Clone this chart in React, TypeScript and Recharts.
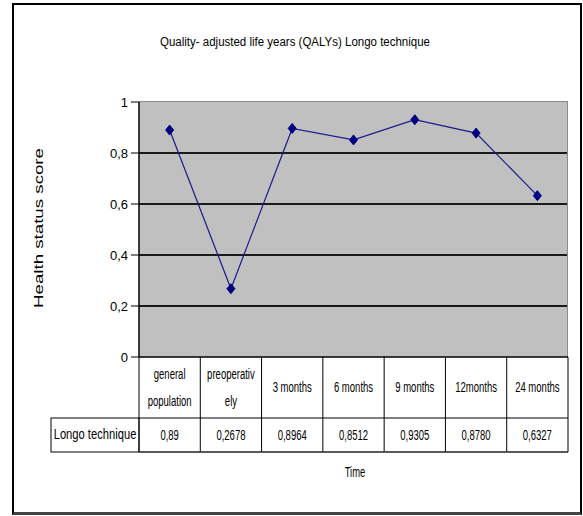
import { LineChart, Line, XAxis, YAxis, CartesianGrid } from 'recharts';

const categories = ['general\npopulation', 'preoperativ\nely', '3 months', '6 months', '9 months', '12months', '24 months'];
const longoValues = [0.89, 0.2678, 0.8964, 0.8512, 0.9305, 0.878, 0.6327];
const valueDigits = [2, 4, 4, 4, 4, 4, 4];
const yTicks = [0, 0.2, 0.4, 0.6, 0.8, 1];
const gridValues = [0.2, 0.4, 0.6, 0.8];
const seriesName = 'Longo technique';

const data = categories.map((label, i) => ({
  label,
  value: longoValues[i],
  text: longoValues[i].toFixed(valueDigits[i]).replace('.', ','),
}));

const FONT = "'Liberation Sans', Arial, sans-serif";
const W = 583;
const H = 516;
const PLOT_LEFT = 139;
const PLOT_RIGHT = 568;
const PLOT_TOP = 102;
const PLOT_BOTTOM = 357;
const PLOT_W = PLOT_RIGHT - PLOT_LEFT;
const COL_W = PLOT_W / categories.length;
const Y_AXIS_W = 60;
const ROW1 = 61;
const ROW2 = 34;
const X_AXIS_H = ROW1 + ROW2;
const NAME_W = 88;
const SX = 0.68;

function SqText({ x, y, children, sx = SX, size = 14 }: any) {
  return (
    <text
      transform={`translate(${x} ${y}) scale(${sx} 1)`}
      textAnchor="middle"
      dominantBaseline="central"
      fontFamily={FONT}
      fontSize={size}
      fill="#000"
    >
      {children}
    </text>
  );
}

function TableTick(props: any) {
  const { x, y, payload } = props;
  const index = props.index ?? payload.index ?? 0;
  const left = x - COL_W / 2;
  const right = x + COL_W / 2;
  const lines = String(payload.value).split('\n');
  const row = data[index];
  return (
    <g>
      {index === 0 && (
        <g>
          <line x1={left} y1={y} x2={left} y2={y + X_AXIS_H} stroke="#000" />
          <rect x={left - NAME_W} y={y + ROW1} width={NAME_W} height={ROW2} fill="none" stroke="#000" />
          <SqText x={left - NAME_W / 2} y={y + ROW1 + ROW2 / 2} sx={0.8}>{seriesName}</SqText>
        </g>
      )}
      <line x1={right} y1={y} x2={right} y2={y + X_AXIS_H} stroke="#000" />
      <line x1={left} y1={y + ROW1} x2={right} y2={y + ROW1} stroke="#000" />
      <line x1={left} y1={y + X_AXIS_H} x2={right} y2={y + X_AXIS_H} stroke="#222" strokeWidth={1.5} />
      {lines.map((l, k) => (
        <SqText key={k} x={x} y={y + ROW1 / 2 + (k - (lines.length - 1) / 2) * 27}>{l}</SqText>
      ))}
      <SqText x={x} y={y + ROW1 + ROW2 / 2}>{row ? row.text : ''}</SqText>
    </g>
  );
}

function Diamond(p: any) {
  const { cx, cy } = p;
  if (cx == null || cy == null) return null;
  return (
    <path
      d={`M${cx},${cy - 5} L${cx + 4},${cy} L${cx},${cy + 5} L${cx - 4},${cy} Z`}
      fill="#000080"
      stroke="#000080"
      strokeLinejoin="round"
    />
  );
}

const fmt = (v: number) => (v === 0 ? '0' : v === 1 ? '1' : v.toFixed(1).replace('.', ','));

export default function App() {
  return (
    <div style={{ position: 'absolute', left: 0, top: 0, width: W, height: H, background: '#fff' }}>
      <div
        style={{
          position: 'absolute',
          left: 12,
          top: 3,
          width: 570,
          height: 512,
          boxSizing: 'border-box',
          border: '2px solid #000',
          borderBottom: '3px solid #444',
        }}
      />
      <div style={{ position: 'absolute', left: 0, top: 0 }}>
        <LineChart
          width={W}
          height={H}
          data={data}
          margin={{ top: PLOT_TOP, right: W - PLOT_RIGHT, bottom: H - PLOT_BOTTOM - X_AXIS_H, left: PLOT_LEFT - Y_AXIS_W }}
        >
          <CartesianGrid vertical={false} fill="#c0c0c0" stroke="#1a1a1a" strokeWidth={2} horizontalValues={gridValues} />
          <XAxis
            dataKey="label"
            interval={0}
            height={X_AXIS_H}
            padding={{ left: COL_W / 2, right: COL_W / 2 }}
            tickSize={0}
            tickMargin={0}
            tickLine={false}
            axisLine={{ stroke: '#000', strokeWidth: 1.5 }}
            tick={<TableTick />}
          />
          <YAxis
            width={Y_AXIS_W}
            domain={[0, 1]}
            ticks={yTicks}
            tickFormatter={fmt}
            tickSize={8}
            tickMargin={3}
            axisLine={{ stroke: '#000', strokeWidth: 1.5 }}
            tickLine={{ stroke: '#000' }}
            tick={{ fontSize: 13, fill: '#000', fontFamily: FONT }}
          />
          <Line
            type="linear"
            dataKey="value"
            name={seriesName}
            stroke="#1a1a8c"
            strokeWidth={1.2}
            dot={<Diamond />}
            activeDot={false}
            isAnimationActive={false}
          />
        </LineChart>
      </div>
      <div
        style={{
          position: 'absolute',
          left: PLOT_LEFT,
          top: PLOT_TOP - 1,
          width: PLOT_W,
          height: PLOT_BOTTOM - PLOT_TOP,
          boxSizing: 'border-box',
          borderTop: '1.5px solid #8c8c8c',
          borderRight: '1.5px solid #8c8c8c',
          pointerEvents: 'none',
        }}
      />
      <svg width={W} height={H} style={{ position: 'absolute', left: 0, top: 0, pointerEvents: 'none' }}>
        <SqText x={295} y={42} sx={0.92} size={12.5}>Quality- adjusted life years (QALYs) Longo technique</SqText>
        <text
          transform="translate(38 228) rotate(-90)"
          textAnchor="middle"
          dominantBaseline="central"
          fontFamily={FONT}
          fontSize={13}
          textLength={160}
          lengthAdjust="spacingAndGlyphs"
        >
          Health status score
        </text>
        <SqText x={355} y={472} sx={0.65} size={14.5}>Time</SqText>
      </svg>
    </div>
  );
}
